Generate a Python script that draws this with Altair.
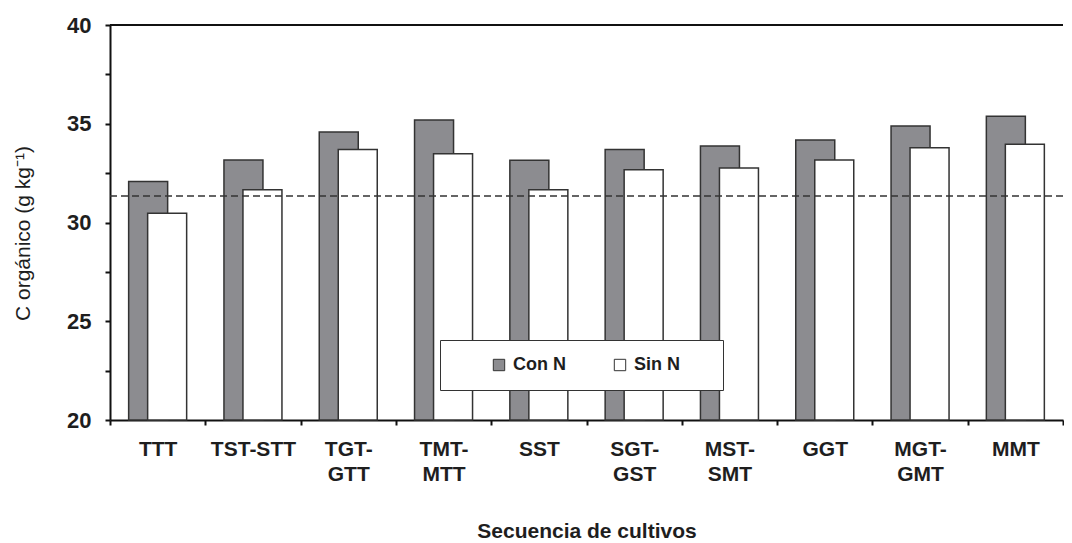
import altair as alt
import pandas as pd

categorias = ["TTT", "TST-STT", "TGT-GTT", "TMT-MTT", "SST", "SGT-GST", "MST-SMT", "GGT", "MGT-GMT", "MMT"]
con_n = [32.07, 33.16, 34.58, 35.19, 33.15, 33.70, 33.87, 34.18, 34.89, 35.38]
sin_n = [30.47, 31.66, 33.70, 33.48, 31.66, 32.67, 32.76, 33.16, 33.79, 33.96]
series = ["Con N", "Sin N"]
colores = ["#8c8c90", "#ffffff"]
referencia = 31.34
y_ticks = [20, 22.5, 25, 27.5, 30, 32.5, 35, 37.5, 40]
y_dominio = [20, 40]

df = pd.DataFrame({
    "secuencia": categorias * 2,
    "serie": [series[0]] * len(categorias) + [series[1]] * len(categorias),
    "valor": con_n + sin_n,
})

FONT = "Liberation Sans"
INK = "#1e1e1e"

label_expr = ("datum.label != 'TST-STT' && indexof(datum.label, '-') > 0 ? "
              "[slice(datum.label, 0, indexof(datum.label, '-') + 1), "
              "slice(datum.label, indexof(datum.label, '-') + 1)] : datum.label")

x_enc = alt.X(
    "secuencia:N", sort=categorias,
    scale=alt.Scale(paddingInner=0, paddingOuter=0),
    axis=alt.Axis(
        title="Secuencia de cultivos", labelAngle=0, tickBand="extent",
        labelExpr=label_expr, labelFont=FONT, labelFontSize=21, labelFontWeight="bold",
        labelColor=INK, labelLineHeight=25, labelBaseline="top", labelPadding=13,
        tickSize=5, titleFont=FONT, titleFontSize=21, titleFontWeight="bold",
        titleColor=INK, titlePadding=36,
    ),
)
y_enc = alt.Y(
    "valor:Q",
    scale=alt.Scale(domain=y_dominio, nice=False, zero=False),
    axis=alt.Axis(
        title="C orgánico (g kg⁻¹)", values=y_ticks, grid=False,
        labelExpr="datum.value % 5 == 0 ? datum.label : ''",
        labelFont=FONT, labelFontSize=22, labelFontWeight="bold", labelColor=INK,
        labelPadding=14, tickSize=5, titleFont=FONT, titleFontSize=21,
        titleFontWeight="normal", titleColor=INK, titlePadding=33, titleY=208,
    ),
)
color_enc = alt.Color(
    "serie:N",
    scale=alt.Scale(domain=series, range=colores),
    legend=alt.Legend(
        title="\u00a0" * 9, titleOrient="right", titlePadding=27, titleFontSize=18,
        orient="none", legendX=330, legendY=315, direction="horizontal",
        fillColor="white", strokeColor="#333333", padding=16, symbolType="square",
        symbolSize=130, symbolStrokeColor="#333333", symbolStrokeWidth=1,
        symbolOffset=34, symbolOpacity=1, labelFont=FONT, labelFontSize=18,
        labelFontWeight="bold", labelColor=INK, columnPadding=11, labelOffset=5,
    ),
)
y2_enc = alt.Y2(datum=y_dominio[0])

base = alt.Chart(df)
barras_con = base.transform_filter(alt.datum.serie == series[0]).mark_bar(
    width=39, xOffset=-9.5, stroke="#333333", strokeWidth=1.5
).encode(x=x_enc, y=y_enc, y2=y2_enc, color=color_enc)
barras_sin = base.transform_filter(alt.datum.serie == series[1]).mark_bar(
    width=39, xOffset=9.5, stroke="#333333", strokeWidth=1.5
).encode(x=x_enc, y=y_enc, y2=y2_enc, color=color_enc)

linea_ref = alt.Chart(pd.DataFrame({"r": [referencia]})).mark_rule(
    strokeDash=[7, 4], color="#333333", strokeWidth=1.5
).encode(y=alt.datum(referencia))
borde_sup = alt.Chart(pd.DataFrame({"r": [y_dominio[1]]})).mark_rule(
    color="#111111", strokeWidth=2
).encode(y=alt.datum(y_dominio[1]))

chart = alt.layer(barras_con, barras_sin, linea_ref, borde_sup).properties(
    width=953, height=395,
    padding={"left": 4, "top": 6, "right": 0, "bottom": 0},
).configure_view(stroke=None).configure_axis(
    domainColor="#111111", domainWidth=2, tickColor="#111111", tickWidth=2,
)

chart.save("out.html", embed_options={"renderer": "svg", "actions": False})
